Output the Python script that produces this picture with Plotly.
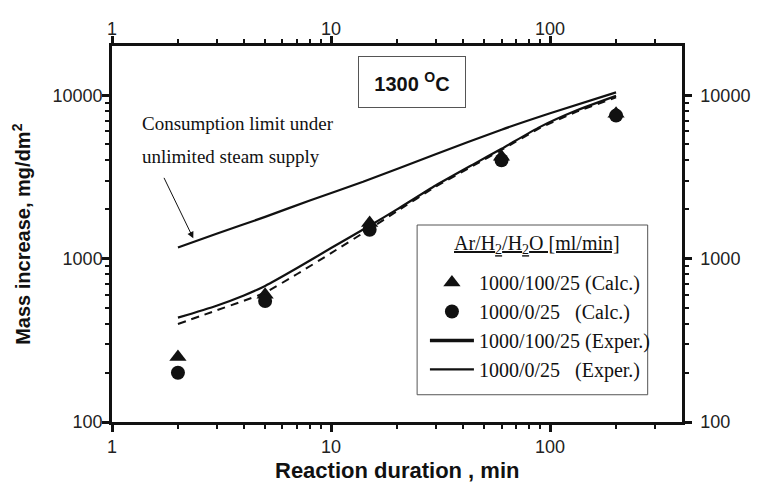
import numpy as np
import plotly.graph_objects as go

# --- data -------------------------------------------------------------
# calculated points (reaction duration in min, mass increase in mg/dm2)
calc_time = [2, 5, 15, 60, 200]
calc_h2 = [250, 600, 1650, 4200, 7700]      # Ar/H2/H2O 1000/100/25
calc_noh2 = [200, 550, 1500, 4000, 7500]    # Ar/H2/H2O 1000/0/25

# experimental curves
exp_time = [2, 3, 4, 5, 7, 10, 15, 20, 30, 45, 60, 90, 130, 200]
exp_h2 = [435, 515, 595, 680, 875, 1160, 1590, 2000, 2800, 3800, 4700,
          6400, 8000, 9900]
exp_noh2 = [398, 482, 552, 620, 805, 1080, 1520, 1950, 2750, 3730, 4620,
            6300, 7850, 9700]

# consumption limit under unlimited steam supply
lim_time = [2, 3, 5, 8, 14, 30, 60, 100, 200]
lim_mass = [1170, 1420, 1800, 2270, 2950, 4350, 6150, 7750, 10400]

x_ticks = [1, 10, 100]
x_ticktext = ["1", "10", "100"]
y_ticks = [100, 1000, 10000]
y_ticktext = ["100", "1000", "10000"]

x_range = [1, 400]
y_range = [100, 20000]

SERIF = "Liberation Serif, Times New Roman, serif"
SANS = "Liberation Sans, Arial, sans-serif"
INK = "#111111"


def minor_vals(lo, hi):
    vals = []
    d = 10 ** int(np.floor(np.log10(lo)))
    while d < hi:
        for k in range(2, 10):
            v = k * d
            if lo < v < hi:
                vals.append(v)
        d *= 10
    return vals


fig = go.Figure()

fig.add_trace(go.Scatter(
    x=calc_time, y=calc_h2, mode="markers",
    marker=dict(symbol="triangle-up", size=15, color=INK),
    name="1000/100/25 (Calc.)"))
fig.add_trace(go.Scatter(
    x=calc_time, y=calc_noh2, mode="markers",
    marker=dict(symbol="circle", size=14, color=INK),
    name="1000/0/25\u00a0\u00a0\u00a0(Calc.)"))
fig.add_trace(go.Scatter(
    x=exp_time, y=exp_h2, mode="lines",
    line=dict(color=INK, width=2.2, shape="spline", smoothing=0.6),
    name="1000/100/25 (Exper.)", showlegend=False))
fig.add_trace(go.Scatter(
    x=exp_time, y=exp_noh2, mode="lines",
    line=dict(color=INK, width=2, dash="8px,6px", shape="spline",
              smoothing=0.6),
    name="1000/0/25 (Exper.)", showlegend=False))
# legend entries for the experimental curves
fig.add_trace(go.Scatter(
    x=[None], y=[None], mode="lines",
    line=dict(color=INK, width=3.5),
    name="1000/100/25 (Exper.)"))
fig.add_trace(go.Scatter(
    x=[None], y=[None], mode="lines",
    line=dict(color=INK, width=2.2),
    name="1000/0/25\u00a0\u00a0\u00a0(Exper.)"))
# consumption limit, drawn on the mirrored top/right axes
fig.add_trace(go.Scatter(
    x=lim_time, y=lim_mass, mode="lines",
    line=dict(color=INK, width=2.2, shape="spline", smoothing=0.6),
    xaxis="x2", yaxis="y2", showlegend=False,
    name="Consumption limit"))

axis_common = dict(
    type="log", showgrid=False, zeroline=False,
    showline=True, linecolor=INK, linewidth=2.5,
    ticks="outside", ticklen=7, tickwidth=2.5, tickcolor=INK,
    tickfont=dict(family=SANS, size=18, color="#222222"),
    tickmode="array",
)

xmin = minor_vals(*x_range)
ymin = minor_vals(*y_range)

xa = dict(axis_common, range=[np.log10(x_range[0]), np.log10(x_range[1])],
          tickvals=x_ticks, ticktext=x_ticktext,
          minor=dict(tickmode="array", tickvals=xmin, ticks="outside",
                     ticklen=4, tickwidth=2, tickcolor=INK))
ya = dict(axis_common, range=[np.log10(y_range[0]), np.log10(y_range[1])],
          tickvals=y_ticks, ticktext=y_ticktext,
          minor=dict(tickmode="array", tickvals=ymin, ticks="outside",
                     ticklen=4, tickwidth=2, tickcolor=INK))

fig.update_layout(
    width=762, height=491,
    margin=dict(l=112, r=69, t=46, b=69),
    paper_bgcolor="white", plot_bgcolor="white",
    xaxis=dict(xa, anchor="y", side="bottom"),
    yaxis=dict(ya, anchor="x", side="left", ticklabelstandoff=-4),
    xaxis2=dict(xa, overlaying="x", matches="x", anchor="y", side="top",
                ticklabelstandoff=-6),
    yaxis2=dict(ya, overlaying="y", matches="y", anchor="x", side="right",
                ticklabelstandoff=5),
    showlegend=True,
    legend=dict(
        x=0.549, y=0.423, xanchor="left", yanchor="top",
        bgcolor="rgba(0,0,0,0)", borderwidth=0,
        font=dict(family=SERIF, size=20, color=INK),
        itemwidth=44,
    ),
)

# legend frame and heading
fig.add_shape(type="rect", xref="paper", yref="paper",
              x0=0.5353, x1=0.9398, y0=0.0725, y1=0.5239,
              line=dict(color="#555555", width=1), layer="above")
fig.add_annotation(
    text="<u>Ar/H<sub>2</sub>/H<sub>2</sub>O [ml/min]</u>",
    xref="paper", yref="paper", x=0.7448, y=0.4708,
    xanchor="center", yanchor="middle", showarrow=False,
    font=dict(family=SERIF, size=20, color=INK))

# axis titles
fig.add_annotation(
    text="<b>Reaction duration , min</b>", xref="paper", yref="paper",
    x=0.5, y=-0.129, xanchor="center", yanchor="middle", showarrow=False,
    font=dict(family=SANS, size=22, color=INK))
fig.add_annotation(
    text="<b>Mass increase, mg/dm<sup>2</sup></b>", xref="paper", yref="paper",
    x=-0.16, y=0.5, xanchor="center", yanchor="middle", showarrow=False,
    textangle=-90, font=dict(family=SANS, size=20, color=INK))

# temperature label
fig.add_annotation(
    text="<b>1300 <sup>O</sup>C</b>", xref="paper", yref="paper",
    x=0.5267, y=0.9036, xanchor="center", yanchor="middle", showarrow=False,
    width=106, height=50, borderpad=0, bordercolor="#555555", borderwidth=1,
    bgcolor="white", font=dict(family=SANS, size=20, color=INK))

# consumption-limit label with arrow
fig.add_annotation(
    text="Consumption limit under", xref="paper", yref="paper",
    x=0.049, y=0.794, xanchor="left", yanchor="middle", showarrow=False,
    font=dict(family=SERIF, size=19, color=INK))
fig.add_annotation(
    text="unlimited steam supply", xref="paper", yref="paper",
    x=0.049, y=0.707, xanchor="left", yanchor="middle", showarrow=False,
    font=dict(family=SERIF, size=19, color=INK))
fig.add_annotation(
    x=np.log10(2.35), y=np.log10(1330), xref="x", yref="y",
    ax=-30, ay=-62, text="", showarrow=True,
    arrowhead=2, arrowsize=1.3, arrowwidth=1, arrowcolor=INK)

fig.write_html("out.html")
